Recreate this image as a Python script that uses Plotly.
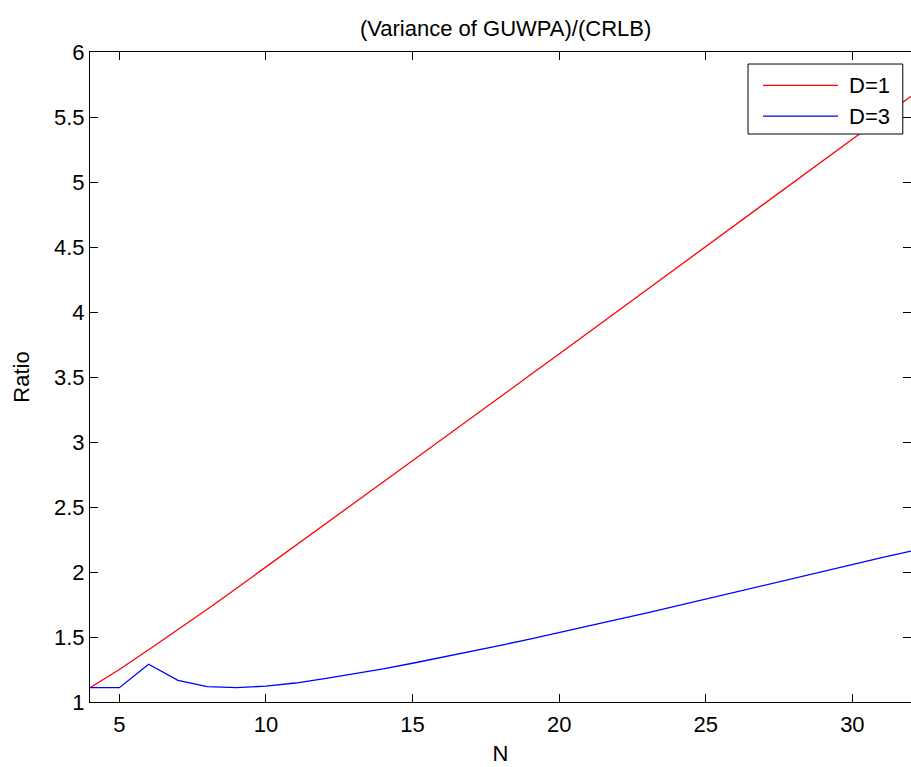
import plotly.graph_objects as go

# Ratio of GUWPA variance to the CRLB versus number of samples N
n_values = list(range(4, 33))
ratio_d1 = [1.11, 1.25, 1.402, 1.557, 1.714, 1.875, 2.04, 2.203, 2.366, 2.529,
            2.692, 2.855, 3.019, 3.184, 3.348, 3.513, 3.677, 3.842, 4.008, 4.173,
            4.339, 4.504, 4.669, 4.834, 5.0, 5.165, 5.33, 5.495, 5.66]
ratio_d3 = [1.11, 1.11, 1.29, 1.167, 1.118, 1.11, 1.122, 1.146, 1.18, 1.215,
            1.254, 1.298, 1.343, 1.39, 1.436, 1.484, 1.533, 1.584, 1.635, 1.686,
            1.739, 1.792, 1.845, 1.899, 1.953, 2.007, 2.06, 2.11, 2.16]
series_names = ["D=1", "D=3"]
series_colors = ["#ff0000", "#0000ff"]
x_ticks = [5, 10, 15, 20, 25, 30]
y_ticks = [1, 1.5, 2, 2.5, 3, 3.5, 4, 4.5, 5, 5.5, 6]

FONT = "Liberation Sans, Arial, sans-serif"
FS = 22

fig = go.Figure()
for name, ys, color in zip(series_names, [ratio_d1, ratio_d3], series_colors):
    fig.add_trace(go.Scatter(x=n_values, y=ys, mode="lines", name=name,
                             line=dict(color=color, width=1.3),
                             showlegend=False))

axis_common = dict(showgrid=False, zeroline=False, showline=True, mirror="ticks",
                   linecolor="black", linewidth=1, ticks="inside", ticklen=8,
                   tickcolor="black", tickwidth=1,
                   tickfont=dict(family=FONT, size=FS, color="black"))

fig.update_xaxes(range=[4, 32], tickvals=x_ticks, ticklabelstandoff=3,
                 title=dict(text="N", font=dict(family=FONT, size=FS, color="black"), standoff=9),
                 **axis_common)
fig.update_yaxes(range=[1, 6], tickvals=y_ticks, ticktext=[f"{v:g}" for v in y_ticks],
                 title=dict(text="Ratio", font=dict(family=FONT, size=FS, color="black"), standoff=18),
                 **axis_common)

# Boxed legend in the upper-right corner of the axes
leg_x0, leg_x1, leg_y0, leg_y1 = 0.8015, 0.990, 0.8738, 0.9815
line_x0, line_x1, text_x = 0.8197, 0.9111, 0.922
row_y = [0.9487, 0.9015]
shapes = [dict(type="rect", xref="paper", yref="paper", x0=leg_x0, x1=leg_x1,
               y0=leg_y0, y1=leg_y1, line=dict(color="black", width=1),
               fillcolor="white", layer="above")]
annotations = []
for name, color, yy in zip(series_names, series_colors, row_y):
    shapes.append(dict(type="line", xref="paper", yref="paper", x0=line_x0, x1=line_x1,
                       y0=yy, y1=yy, line=dict(color=color, width=1.3), layer="above"))
    annotations.append(dict(xref="paper", yref="paper", x=text_x, y=yy, text=name,
                            showarrow=False, xanchor="left", yanchor="middle",
                            font=dict(family=FONT, size=FS, color="black")))

fig.update_layout(
    width=911, height=767,
    margin=dict(l=90, r=0, t=52, b=65),
    paper_bgcolor="white", plot_bgcolor="white",
    title=dict(text="(Variance of GUWPA)/(CRLB)", x=0.555, xanchor="center",
               y=1 - 28 / 767, yanchor="middle",
               font=dict(family=FONT, size=FS, color="black")),
    shapes=shapes, annotations=annotations,
)

fig.write_html("out.html")
